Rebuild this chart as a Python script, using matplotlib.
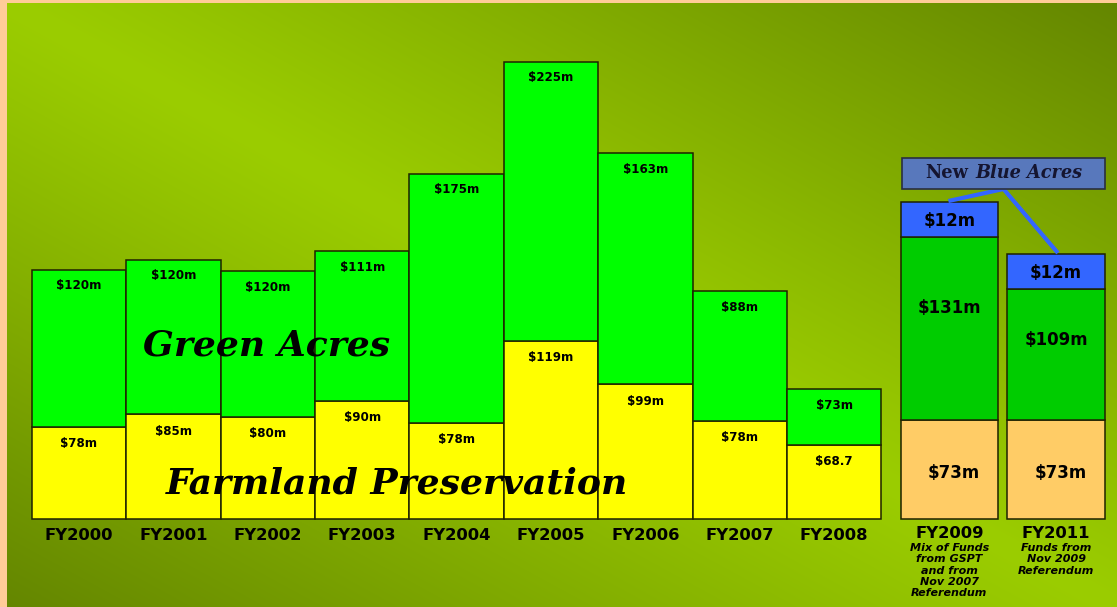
import numpy as np
import matplotlib
matplotlib.use("Agg")
import matplotlib.pyplot as plt
from matplotlib.patches import Rectangle

# ---------------- data ----------------
years = ["FY2000", "FY2001", "FY2002", "FY2003", "FY2004", "FY2005",
         "FY2006", "FY2007", "FY2008", "FY2009", "FY2011"]
subtitles = ["", "", "", "", "", "", "", "", "",
             "Mix of Funds\nfrom GSPT\nand from\nNov 2007\nReferendum",
             "Funds from\nNov 2009\nReferendum"]
# segment heights as drawn in the picture (drawing units)
farmland_h = [92, 105, 102, 118, 96, 178, 135, 98, 74, 99, 99]
green_h = [157, 154, 146, 150, 249, 279, 231, 130, 56, 183, 131]
blue_h = [0, 0, 0, 0, 0, 0, 0, 0, 0, 35, 35]
# value labels shown on the segments
farmland_lbl = ["$78m", "$85m", "$80m", "$90m", "$78m", "$119m", "$99m",
                "$78m", "$68.7", "$73m", "$73m"]
green_lbl = ["$120m", "$120m", "$120m", "$111m", "$175m", "$225m", "$163m",
             "$88m", "$73m", "$131m", "$109m"]
blue_lbl = ["", "", "", "", "", "", "", "", "", "$12m", "$12m"]
positions = [0, 1, 2, 3, 4, 5, 6, 7, 8, 9.22, 10.35]

# ---------------- figure ----------------
W, H = 1117, 607
fig = plt.figure(figsize=(W / 100, H / 100), dpi=100)

# background gradient
bg = fig.add_axes([0, 0, 1, 1])
bg.set_xlim(0, W)
bg.set_ylim(H, 0)
bg.axis("off")
yy, xx = np.mgrid[0:H, 0:W]
u = (xx - 7) / (W - 7)
v = (yy - 3) / (H - 3)
t = np.clip(np.abs(u - v), 0, 1) ** 1.1
bright = np.array([155, 205, 0]) / 255
dark = np.array([100, 134, 0]) / 255
img = bright[None, None, :] * (1 - t[..., None]) + dark[None, None, :] * t[..., None]
bg.imshow(img, extent=(0, W, H, 0), aspect="auto", interpolation="bilinear")
bg.add_patch(Rectangle((0, 0), 7, H, color="#FFCC99", lw=0))
bg.add_patch(Rectangle((0, 0), W, 3, color="#FFCC99", lw=0))

# main axes: baseline at pixel row 519, bar unit = 94.4 px, x0 at 79 px
ax = fig.add_axes([0, 0, 1, 1])
ax.patch.set_alpha(0)
unit = 94.4
ax.set_xlim(-79 / unit, (W - 79) / unit)
ax.set_ylim(-(H - 519), 519)
ax.axis("off")

SANS = "DejaVu Sans"
SERIF = "DejaVu Serif"
edge = "#1e2200"
lblfont = dict(family=SANS, weight="bold", color="black")
n_old = 9
for i, p in enumerate(positions):
    big = i >= n_old
    wdt = 1.03 if big else 1.0
    ycol = "#FFCC66" if big else "#FFFF00"
    gcol = "#00CC00" if big else "#00FF00"
    ax.bar(p, farmland_h[i], width=wdt, bottom=0, color=ycol, edgecolor=edge, lw=1.1)
    ax.bar(p, green_h[i], width=wdt, bottom=farmland_h[i], color=gcol, edgecolor=edge, lw=1.1)
    top = farmland_h[i] + green_h[i]
    if blue_h[i]:
        ax.bar(p, blue_h[i], width=wdt, bottom=top, color="#3366FF", edgecolor=edge, lw=1.1)
    if big:
        fs = 12
        ax.text(p + 0.05, farmland_h[i] / 2 - 4, farmland_lbl[i], ha="center", va="center", fontsize=fs, **lblfont)
        ax.text(p, top - 0.39 * green_h[i], green_lbl[i], ha="center", va="center", fontsize=fs, **lblfont)
        ax.text(p, top + blue_h[i] / 2 - 2, blue_lbl[i], ha="center", va="center", fontsize=fs, **lblfont)
    else:
        fs = 8.6
        ax.text(p, farmland_h[i] - 17, farmland_lbl[i], ha="center", va="center", fontsize=fs, **lblfont)
        ax.text(p, top - 16, green_lbl[i], ha="center", va="center", fontsize=fs, **lblfont)
    # category labels
    ax.text(p, -15 if big else -17, years[i], ha="center", va="center", fontsize=11.8,
            family=SANS, weight="bold", color="black")
    if subtitles[i]:
        ax.text(p, -24, subtitles[i], ha="center", va="top", fontsize=8.0,
                family=SANS, weight="bold", style="italic",
                color="black", linespacing=1.16)

# big series captions
ax.text(1.99, 519 - 345, "Green Acres", ha="center", va="center", fontsize=26,
        family=SERIF, weight="bold", style="italic", color="black")
ax.text(3.37, 519 - 484, "Farmland Preservation", ha="center", va="center", fontsize=26,
        family=SERIF, weight="bold", style="italic", color="black")

# New Blue Acres callout
bx0, bx1 = (902 - 79) / unit, (1105 - 79) / unit
by0, by1 = 519 - 189, 519 - 158
ax.add_patch(Rectangle((bx0, by0), bx1 - bx0, by1 - by0, facecolor="#5878BC",
                       edgecolor="#2a2f40", lw=1.2, zorder=3))
ymid = (by0 + by1) / 2
ax.text((968 - 79) / unit, ymid, "New", ha="right", va="center", fontsize=12.8,
        family=SERIF, weight="bold", color="#151530", zorder=4)
ax.text((975 - 79) / unit, ymid, "Blue Acres", ha="left", va="center", fontsize=12.8,
        family=SERIF, weight="bold", style="italic", color="#151530", zorder=4)
t9 = farmland_h[9] + green_h[9] + blue_h[9]
t11 = farmland_h[10] + green_h[10] + blue_h[10]
cx = (bx0 + bx1) / 2
ax.plot([positions[9] - 0.01, cx, positions[10] + 0.02], [t9 + 1, by0, t11 + 1],
        color="#3366FF", lw=3, solid_capstyle="butt", zorder=2)

fig.savefig("out.png", dpi=100)
